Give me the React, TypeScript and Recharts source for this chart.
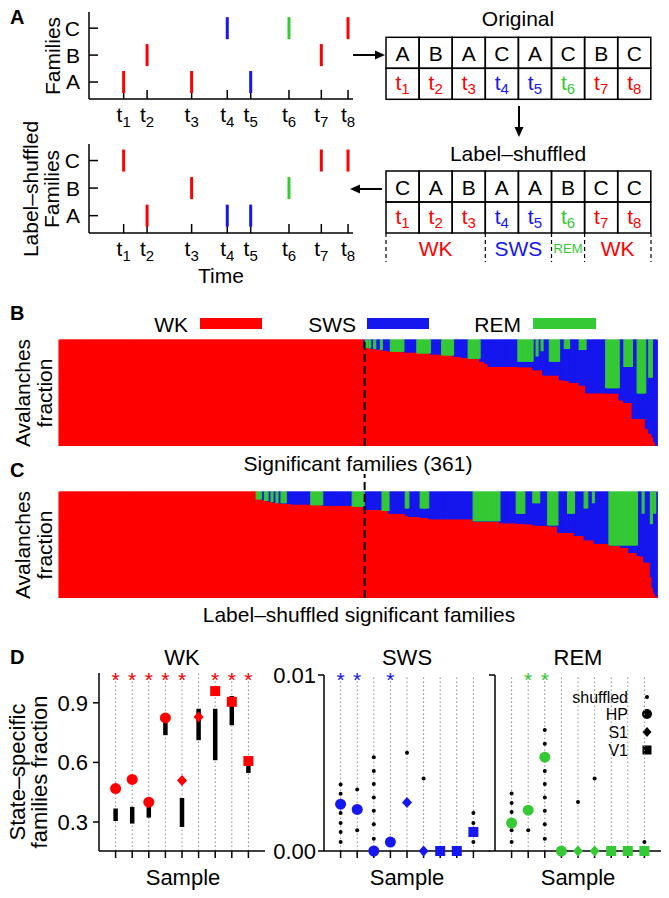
import React from "react";
import {
  ScatterChart,
  Scatter,
  XAxis,
  YAxis,
  BarChart,
  Bar,
  ReferenceLine,
  ErrorBar,
} from "recharts";

const RED = "#ff0000";
const BLUE = "#1616ee";
const GREEN = "#35c935";
const FONT = "'Liberation Sans', Arial, Helvetica, sans-serif";
const stateColor: Record<string, string> = { WK: RED, SWS: BLUE, REM: GREEN };
const axisStyle = { stroke: "#000", strokeWidth: 1.5 };

// panel A: toy example
const familyNames = ["A", "B", "C"];
const eventTimes = [1.05, 1.76, 3.11, 4.19, 4.9, 6.06, 7.04, 7.85];
const eventStates = ["WK", "WK", "WK", "SWS", "SWS", "REM", "WK", "WK"];
const originalFamilies = ["A", "B", "A", "C", "A", "C", "B", "C"];
const shuffledFamilies = ["C", "A", "B", "A", "A", "B", "C", "C"];

// panel B: significant families, sorted (pure WK first, then runs of bars)
const sigPureWk = 184;
const sigCounts = [1, 1, 1, 1, 2, 1, 3, 1, 3, 2, 8, 8, 8, 7, 7, 5, 4, 7, 3, 2, 18, 9, 2, 1, 2, 1, 4, 6, 3, 3, 6, 4, 12, 8, 3, 5, 3, 5, 2, 2, 1, 1, 1];
const sigWk = [0.93, 0.93, 0.93, 0.925, 0.92, 0.92, 0.915, 0.91, 0.905, 0.9, 0.895, 0.888, 0.878, 0.868, 0.858, 0.848, 0.835, 0.828, 0.8, 0.78, 0.752, 0.748, 0.72, 0.72, 0.72, 0.72, 0.67, 0.67, 0.625, 0.62, 0.6, 0.575, 0.503, 0.5, 0.434, 0.41, 0.26, 0.26, 0.167, 0.12, 0.088, 0.04, 0];
const sigRem = [0, 0.07, 0, 0.075, 0, 0.08, 0, 0.09, 0, 0, 0.105, 0, 0.122, 0, 0.142, 0, 0, 0.172, 0, 0, 0, 0.2, 0, 0.15, 0, 0.1, 0, 0.2, 0, 0.08, 0, 0.09, 0, 0.45, 0, 0.25, 0, 0.5, 0, 0.35, 0, 0, 0];

// panel C: label-shuffled significant families
const shufPureWk = 119;
const shufCounts = [3, 2, 2, 2, 1, 2, 1, 2, 3, 3, 12, 7, 18, 7, 11, 4, 10, 2, 7, 5, 27, 16, 10, 5, 5, 4, 5, 6, 6, 4, 6, 2, 3, 1, 9, 7, 5, 5, 3, 1, 4, 1, 1, 1, 1];
const shufWk = [0.935, 0.93, 0.92, 0.915, 0.91, 0.905, 0.9, 0.9, 0.895, 0.893, 0.888, 0.88, 0.872, 0.865, 0.835, 0.825, 0.8, 0.78, 0.77, 0.76, 0.748, 0.725, 0.71, 0.705, 0.7, 0.69, 0.685, 0.68, 0.62, 0.62, 0.59, 0.55, 0.55, 0.55, 0.517, 0.495, 0.48, 0.43, 0.4, 0.4, 0.34, 0.2, 0.1, 0.05, 0.02];
const shufRem = [0.065, 0, 0.08, 0, 0.09, 0, 0.1, 0, 0.1, 0, 0, 0.12, 0, 0.135, 0, 0.175, 0, 0.15, 0, 0.15, 0, 0.27, 0, 0.2, 0, 0.1, 0, 0.31, 0, 0.2, 0, 0.15, 0, 0.1, 0, 0.5, 0.5, 0.5, 0, 0.2, 0, 0.3, 0, 0.2, 0];
const dashedAt = 184;

// panel D
const sampleArea = ["HP", "HP", "HP", "HP", "S1", "S1", "V1", "V1", "V1"];
const wkObserved = [0.468, 0.514, 0.4, 0.824, 0.509, 0.829, 0.959, 0.905, 0.607];
const wkShuffledLow = [0.305, 0.292, 0.322, 0.737, 0.275, 0.712, 0.611, 0.787, 0.547];
const wkShuffledHigh = [0.368, 0.376, 0.379, 0.8, 0.421, 0.87, 0.87, 0.934, 0.602];
const wkStars = [1, 1, 1, 1, 1, 0, 1, 1, 1];
const swsObserved = [0.00266, 0.00236, 0, 0.00051, 0.00275, 0, 0, 0, 0.00108];
const swsShuffled = [
  [0.00378, 0.00325, 0.00216, 0.00159, 0.00108, 0.00051],
  [0.00349, 0.00118],
  [0.00533, 0.00455, 0.0038, 0.00304, 0.00228, 0.00152, 0.0007],
  [],
  [0.00558],
  [0.00412],
  [],
  [],
  [0.00216, 0.00159, 0.00051],
];
const swsStars = [1, 1, 0, 1, 0, 0, 0, 0, 0];
const remObserved = [0.00159, 0.00232, 0.00533, 0, 0, 0, 0, 0, 0];
const remShuffled = [
  [0.00327, 0.00273, 0.00222, 0.00118, 0.00051],
  [0.00118],
  [0.00687, 0.00609, 0.00455, 0.0038, 0.00304, 0.00228, 0.00152, 0.0007],
  [],
  [0.00279],
  [0.00412],
  [],
  [],
  [0.00051],
];
const remStars = [0, 1, 1, 0, 0, 0, 0, 0, 0];

function expandRows(pure: number, counts: number[], wk: number[], rem: number[]) {
  const rows: { i: number; wk: number; sws: number; rem: number }[] = [];
  for (let k = 0; k < pure; k++) rows.push({ i: rows.length, wk: 1, sws: 0, rem: 0 });
  counts.forEach((n, s) => {
    for (let k = 0; k < n; k++) {
      rows.push({ i: rows.length, wk: wk[s], rem: rem[s], sws: Math.max(0, 1 - wk[s] - rem[s]) });
    }
  });
  return rows;
}

const TimeTick = (props: any) => {
  const { x, y, payload } = props;
  const n = eventTimes.indexOf(payload.value) + 1;
  return (
    <text x={x} y={y} dy="0.71em" textAnchor="middle" fontSize={21} fontFamily={FONT} fill="#000">
      t<tspan fontSize={15} dy={5}>{n}</tspan>
    </text>
  );
};

const EventMark = (props: any) => {
  const { cx, cy, payload } = props;
  return <line x1={cx} x2={cx} y1={cy - 11} y2={cy + 11} stroke={payload.color} strokeWidth={3} />;
};

function Raster({ families, top, height }: { families: string[]; top: number; height: number }) {
  const events = eventTimes.map((t, i) => ({
    t,
    f: familyNames.indexOf(families[i]) + 1,
    color: stateColor[eventStates[i]],
  }));
  return (
    <div style={{ position: "absolute", left: 0, top }}>
      <ScatterChart width={362} height={height} margin={{ top: 12, right: 9, bottom: 0, left: 0 }}>
        <XAxis
          type="number"
          dataKey="t"
          domain={[0, 8]}
          ticks={eventTimes}
          interval={0}
          height={36}
          tickSize={-9}
          tickMargin={17}
          tick={<TimeTick />}
          axisLine={axisStyle}
          tickLine={axisStyle}
        />
        <YAxis
          type="number"
          dataKey="f"
          domain={[0.37, 3.6]}
          ticks={[1, 2, 3]}
          interval={0}
          width={89}
          tickSize={-9}
          tickMargin={18}
          tickFormatter={(v: number) => familyNames[v - 1]}
          tick={{ fill: "#000", fontSize: 21, fontFamily: FONT }}
          axisLine={axisStyle}
          tickLine={axisStyle}
        />
        <Scatter data={events} shape={EventMark} isAnimationActive={false} />
      </ScatterChart>
    </div>
  );
}

function StateTable({ families, top, title, titleY }: { families: string[]; top: number; title: string; titleY: number }) {
  const x0 = 386;
  const w = 33.1;
  const h = 31;
  return (
    <g fontFamily={FONT}>
      <text x={518} y={titleY} textAnchor="middle" dominantBaseline="central" fontSize={21}>
        {title}
      </text>
      {families.map((f, i) => (
        <g key={i}>
          <rect x={x0 + i * w} y={top} width={w} height={h} fill="none" stroke="#000" strokeWidth={1.5} />
          <rect x={x0 + i * w} y={top + h} width={w} height={h} fill="none" stroke="#000" strokeWidth={1.5} />
          <text x={x0 + i * w + w / 2} y={top + h / 2 + 1} textAnchor="middle" dominantBaseline="central" fontSize={21}>
            {f}
          </text>
          <text
            x={x0 + i * w + w / 2}
            y={top + h + h / 2 - 1}
            textAnchor="middle"
            dominantBaseline="central"
            fontSize={21}
            fill={stateColor[eventStates[i]]}
          >
            t<tspan fontSize={15} dy={5}>{i + 1}</tspan>
          </text>
        </g>
      ))}
    </g>
  );
}

function stateRuns() {
  const runs: { state: string; from: number; to: number }[] = [];
  eventStates.forEach((s, i) => {
    const last = runs[runs.length - 1];
    if (last && last.state === s) last.to = i + 1;
    else runs.push({ state: s, from: i, to: i + 1 });
  });
  return runs;
}

function FractionBars({ rows, top, height, marginTop, extendDash }: { rows: any[]; top: number; height: number; marginTop: number; extendDash: boolean }) {
  return (
    <div style={{ position: "absolute", left: 0, top }}>
      <BarChart
        width={669}
        height={height}
        data={rows}
        margin={{ top: marginTop, right: 12, bottom: 0, left: 59 }}
        barCategoryGap={0}
        barGap={0}
      >
        <XAxis dataKey="i" tick={false} tickLine={false} height={0} axisLine={axisStyle} />
        <XAxis xAxisId="top" orientation="top" dataKey="i" tick={false} tickLine={false} height={0} axisLine={axisStyle} />
        <YAxis domain={[0, 1]} width={0} tick={false} tickLine={false} axisLine={axisStyle} />
        <YAxis yAxisId="r" orientation="right" domain={[0, 1]} width={0} tick={false} tickLine={false} axisLine={axisStyle} />
        <Bar dataKey="wk" stackId="s" fill={RED} stroke={RED} strokeWidth={1.1} isAnimationActive={false} />
        <Bar dataKey="sws" stackId="s" fill={BLUE} stroke={BLUE} strokeWidth={1.1} isAnimationActive={false} />
        <Bar dataKey="rem" stackId="s" fill={GREEN} stroke={GREEN} strokeWidth={1.1} isAnimationActive={false} />
        {extendDash ? (
          <ReferenceLine
            segment={[
              { x: dashedAt, y: 0 },
              { x: dashedAt, y: 1.17 },
            ]}
            ifOverflow="visible"
            stroke="#000"
            strokeWidth={2}
            strokeDasharray="8 4"
          />
        ) : (
          <ReferenceLine x={dashedAt} stroke="#000" strokeWidth={2} strokeDasharray="8 4" />
        )}
      </BarChart>
    </div>
  );
}

function Marker(color: string) {
  return (props: any) => {
    const { cx, cy, payload } = props;
    if (payload.kind === "HP") return <circle cx={cx} cy={cy} r={5.5} fill={color} />;
    if (payload.kind === "S1")
      return <polygon points={`${cx},${cy - 5.5} ${cx + 5},${cy} ${cx},${cy + 5.5} ${cx - 5},${cy}`} fill={color} />;
    return <rect x={cx - 5} y={cy - 5} width={10} height={10} fill={color} />;
  };
}

function StarMark(color: string) {
  return (props: any) => (
    <text x={props.cx} y={props.cy + 12} textAnchor="middle" fontSize={21} fontFamily={FONT} fill={color}>
      *
    </text>
  );
}

const SmallDot = (props: any) => <circle cx={props.cx} cy={props.cy} r={2} fill="#000" />;
const Nothing = () => <g />;

function StatePanel(p: {
  left: number;
  width: number;
  yWidth: number;
  marginTop: number;
  domain: [number, number];
  ticks: number[];
  tickFmt: (v: number) => string;
  tickMargin: number;
  color: string;
  observed: number[];
  stars: number[];
  starValue: number;
  dots?: number[][];
  low?: number[];
  high?: number[];
}) {
  const samples = sampleArea.map((_, i) => i + 1);
  const obs = samples.map((x, i) => ({ x, y: p.observed[i], kind: sampleArea[i] }));
  const starData = samples.filter((x) => p.stars[x - 1]).map((x) => ({ x, y: p.starValue }));
  const dotData = p.dots ? p.dots.flatMap((vals, i) => vals.map((y) => ({ x: i + 1, y }))) : [];
  const rangeData =
    p.low && p.high
      ? samples.map((x, i) => {
          const mid = (p.low![i] + p.high![i]) / 2;
          return { x, y: mid, err: [mid - p.low![i], p.high![i] - mid] };
        })
      : [];
  return (
    <div style={{ position: "absolute", left: p.left, top: 640 }}>
      <ScatterChart width={p.width} height={240} margin={{ top: p.marginTop, right: p.width - p.yWidth - 166, bottom: 0, left: 0 }}>
        {samples.map((x) => (
          <ReferenceLine key={x} x={x} stroke="#8a8a8a" strokeWidth={1} strokeDasharray="1.5 2.5" />
        ))}
        <XAxis
          type="number"
          dataKey="x"
          domain={[0, 10]}
          ticks={samples}
          interval={0}
          height={29}
          tickFormatter={() => ""}
          tickSize={7}
          axisLine={axisStyle}
          tickLine={axisStyle}
        />
        <YAxis
          type="number"
          dataKey="y"
          domain={p.domain}
          ticks={p.ticks}
          interval={0}
          width={p.yWidth}
          tickSize={6}
          tickMargin={p.tickMargin}
          tickFormatter={p.tickFmt}
          tick={{ fill: "#000", fontSize: 22, fontFamily: FONT }}
          axisLine={axisStyle}
          tickLine={axisStyle}
        />
        {rangeData.length > 0 && (
          <Scatter data={rangeData} shape={Nothing} isAnimationActive={false}>
            <ErrorBar dataKey="err" direction="y" width={0} stroke="#000" strokeWidth={4.5} isAnimationActive={false} />
          </Scatter>
        )}
        {dotData.length > 0 && <Scatter data={dotData} shape={SmallDot} isAnimationActive={false} />}
        <Scatter data={obs} shape={Marker(p.color)} isAnimationActive={false} />
        <Scatter data={starData} shape={StarMark(p.color)} isAnimationActive={false} />
      </ScatterChart>
    </div>
  );
}

function Rotated({ x, y, children, size = 21 }: { x: number; y: number; children: React.ReactNode; size?: number }) {
  return (
    <text
      x={x}
      y={y}
      transform={`rotate(-90 ${x} ${y})`}
      textAnchor="middle"
      dominantBaseline="central"
      fontSize={size}
      fontFamily={FONT}
    >
      {children}
    </text>
  );
}

function Label({ x, y, children, size = 21, fill = "#000", anchor = "middle", bold = false }: any) {
  return (
    <text
      x={x}
      y={y}
      textAnchor={anchor}
      dominantBaseline="central"
      fontSize={size}
      fontFamily={FONT}
      fill={fill}
      fontWeight={bold ? "bold" : "normal"}
    >
      {children}
    </text>
  );
}

export default function App() {
  const sigRows = expandRows(sigPureWk, sigCounts, sigWk, sigRem);
  const shufRows = expandRows(shufPureWk, shufCounts, shufWk, shufRem);
  const runs = stateRuns();
  const colW = 33.1;
  return (
    <div
      style={{
        position: "absolute",
        left: 0,
        top: 0,
        width: 669,
        height: 898,
        background: "#fff",
        fontFamily: FONT,
        overflow: "hidden",
      }}
    >
      <svg width={669} height={898} style={{ position: "absolute", left: 0, top: 0 }}>
        {/* panel letters */}
        <Label x={10} y={17} size={20} anchor="start" bold>A</Label>
        <Label x={10} y={313} size={20} anchor="start" bold>B</Label>
        <Label x={10} y={470} size={20} anchor="start" bold>C</Label>
        <Label x={10} y={657} size={20} anchor="start" bold>D</Label>

        {/* panel A */}
        <Rotated x={52} y={56}>Families</Rotated>
        <Rotated x={30} y={189}>Label–shuffled</Rotated>
        <Rotated x={51} y={189}>Families</Rotated>
        <Label x={221} y={275}>Time</Label>
        <StateTable families={originalFamilies} top={37.3} title="Original" titleY={18} />
        <StateTable families={shuffledFamilies} top={171} title="Label–shuffled" titleY={153} />
        <line x1={353} y1={55} x2={376} y2={55} stroke="#000" strokeWidth={2} />
        <polygon points="385,55 375,50.5 375,59.5" fill="#000" />
        <line x1={519} y1={106} x2={519} y2={128} stroke="#000" strokeWidth={2} />
        <polygon points="519,137 514.5,127 523.5,127" fill="#000" />
        <line x1={382} y1={189} x2={359} y2={189} stroke="#000" strokeWidth={2} />
        <polygon points="350,189 360,184.5 360,193.5" fill="#000" />
        {runs.map((r, k) => (
          <g key={k}>
            <line x1={386 + r.from * colW} x2={386 + r.from * colW} y1={233} y2={262} stroke="#000" strokeWidth={1.2} strokeDasharray="4 3" />
            <Label
              x={386 + ((r.from + r.to) / 2) * colW}
              y={248}
              size={r.to - r.from > 1 ? 21 : 13}
              fill={stateColor[r.state]}
            >
              {r.state}
            </Label>
          </g>
        ))}
        <line x1={651} x2={651} y1={233} y2={262} stroke="#000" strokeWidth={1.2} strokeDasharray="4 3" />

        {/* panel B / C */}
        <Label x={188} y={324} anchor="end">WK</Label>
        <rect x={200} y={318} width={62} height={11} fill={RED} />
        <Label x={356} y={324} anchor="end">SWS</Label>
        <rect x={367} y={318} width={62} height={11} fill={BLUE} />
        <Label x={521} y={324} anchor="end">REM</Label>
        <rect x={533} y={318} width={63} height={11} fill={GREEN} />
        <Rotated x={22} y={393}>Avalanches</Rotated>
        <Rotated x={44.5} y={393}>fraction</Rotated>
        <Label x={358} y={463}>Significant families (361)</Label>
        <Rotated x={22} y={545}>Avalanches</Rotated>
        <Rotated x={44.5} y={545}>fraction</Rotated>
        <Label x={359} y={614}>Label–shuffled significant families</Label>

        {/* panel D */}
        <Label x={182} y={657} size={22}>WK</Label>
        <Label x={407} y={657} size={22}>SWS</Label>
        <Label x={578} y={657} size={22}>REM</Label>
        <Rotated x={17} y={772} size={22}>State–specific</Rotated>
        <Rotated x={39} y={772} size={22}>families fraction</Rotated>
        <Label x={183} y={877} size={22}>Sample</Label>
        <Label x={407} y={877} size={22}>Sample</Label>
        <Label x={578} y={877} size={22}>Sample</Label>
        <Label x={628} y={697} size={16} anchor="end">shuffled</Label>
        <circle cx={647} cy={697} r={2} fill="#000" />
        <Label x={628} y={714} size={16} anchor="end">HP</Label>
        <circle cx={647} cy={714} r={5} fill="#000" />
        <Label x={628} y={732} size={16} anchor="end">S1</Label>
        <polygon points="647,727 651.5,732 647,737 642.5,732" fill="#000" />
        <Label x={628} y={750} size={16} anchor="end">V1</Label>
        <rect x={642.5} y={745.5} width={9} height={9} fill="#000" />
      </svg>

      <Raster families={originalFamilies} top={0} height={135} />
      <Raster families={shuffledFamilies} top={132} height={137} />

      <FractionBars rows={sigRows} top={330} height={116} marginTop={10} extendDash={false} />
      <FractionBars rows={shufRows} top={470} height={128} marginTop={22} extendDash={true} />

      <StatePanel
        left={0}
        width={280}
        yWidth={99}
        marginTop={33}
        domain={[0.154, 1.05]}
        ticks={[0.3, 0.6, 0.9]}
        tickFmt={(v) => v.toFixed(1)}
        tickMargin={5}
        color={RED}
        observed={wkObserved}
        stars={wkStars}
        starValue={1.04}
        low={wkShuffledLow}
        high={wkShuffledHigh}
      />
      <StatePanel
        left={230}
        width={270}
        yWidth={94}
        marginTop={35}
        domain={[0, 0.01]}
        ticks={[0, 0.01]}
        tickFmt={(v) => v.toFixed(2)}
        tickMargin={2}
        color={BLUE}
        observed={swsObserved}
        stars={swsStars}
        starValue={0.01}
        dots={swsShuffled}
      />
      <StatePanel
        left={470}
        width={199}
        yWidth={25}
        marginTop={35}
        domain={[0, 0.01]}
        ticks={[0, 0.01]}
        tickFmt={() => ""}
        tickMargin={2}
        color={GREEN}
        observed={remObserved}
        stars={remStars}
        starValue={0.01}
        dots={remShuffled}
      />
    </div>
  );
}
